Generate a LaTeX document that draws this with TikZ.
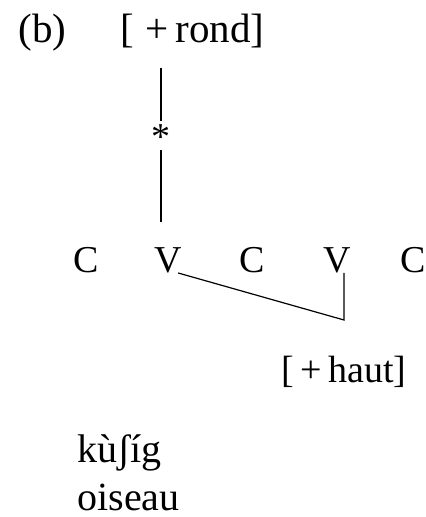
\documentclass[tikz,border=0pt]{standalone}
\usepackage{fontspec}
\setmainfont{Liberation Serif}
\begin{document}
\begin{tikzpicture}[x=.5pt,y=-.5pt,font=\fontsize{19}{23}\selectfont,
  every node/.style={inner sep=0pt,anchor=base}]
  \useasboundingbox (0,0) rectangle (426,517);
  \node[anchor=base west,font=\fontsize{20.5}{24}\selectfont] (lab) at (18,43) {(b)};
  \node[anchor=base west,font=\fontsize{20.5}{24}\selectfont] (rond) at (120,43) {[\;+\,rond]};
  \node (star) at (161,150) {*};
  \node (c1) at (86,272) {C}; \node (v1) at (168,272) {V}; \node (c2) at (252,272) {C};
  \node (v2) at (337,272) {V}; \node (c3) at (413,272) {C};
  \node (haut) at (344,382) {[\,+\,haut]};
  \node[anchor=base west,font=\fontsize{20}{24}\selectfont] (mot) at (77,462) {kùʃíg};
  \node[anchor=base west,font=\fontsize{20}{24}\selectfont] (gloss) at (77,510) {oiseau};
  \coordinate (vtop) at (161,222); \coordinate (knee) at (344,320);
  \draw[line width=.8pt] (rond.south -| star) ++(0,19) -- ([yshift=2pt]star.north);
  \draw[line width=.8pt] (star.south) -- (vtop);
  \draw[line width=.6pt] ([xshift=-2]v1.south east) -- (knee) -- (knee |- v2.south);
\end{tikzpicture}
\end{document}
